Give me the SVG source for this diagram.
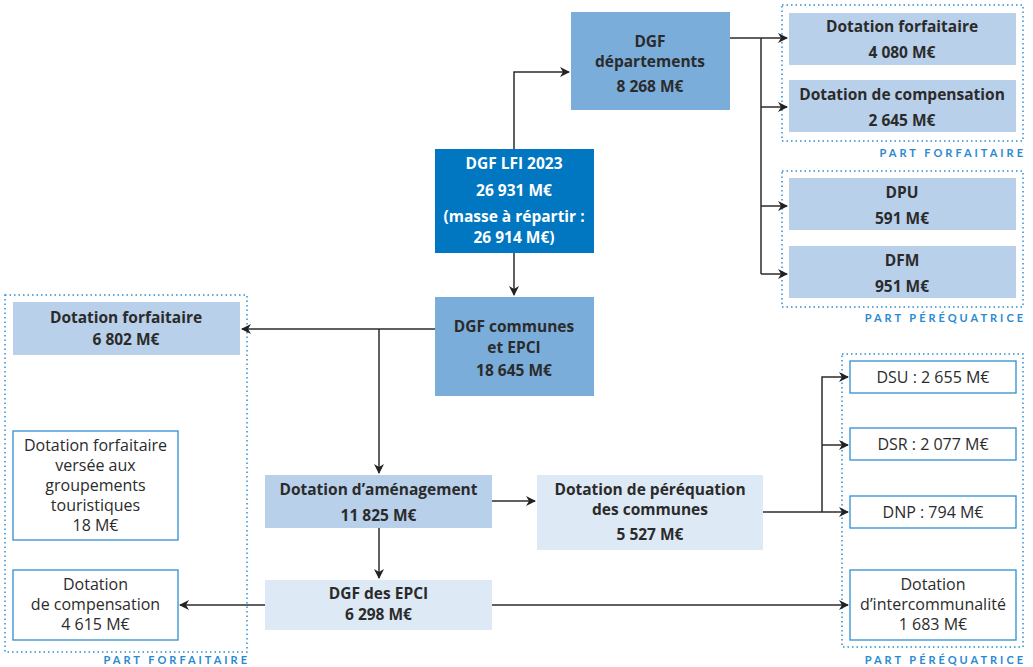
<svg xmlns="http://www.w3.org/2000/svg" width="1033" height="667" viewBox="0 0 1033 667">
<defs>
<marker id="ah" viewBox="0 0 10 10" refX="9" refY="5" markerWidth="10" markerHeight="10" markerUnits="userSpaceOnUse" orient="auto">
<path d="M0,0 L10,5 L0,10 L3,5 Z" fill="#222"/>
</marker>
<style>
text{font-family:"Open Sans","Noto Sans","Liberation Sans",sans-serif;fill:#2b2b2b;text-anchor:middle;font-size:16px}
.b{font-weight:bold;font-size:15.5px}
.w{fill:#fff}
.mid{fill:#7badda}
.light{fill:#b8d0ea}
.pale{fill:#dde9f5}
.dark{fill:#0077c0}
.wb{fill:#fff;stroke:#2f8fd0;stroke-width:1.3}
.dot{fill:none;stroke:#2f8fd0;stroke-width:1.5;stroke-dasharray:1.5 3}
.lab{font-family:"Lato","Liberation Sans",sans-serif;font-size:11px;font-weight:bold;fill:#2a8ad0;letter-spacing:3px;text-anchor:end}
.c{fill:none;stroke:#2b2b2b;stroke-width:1.5}
</style>
</defs>
<g id="groups">
<rect class="dot" x="782" y="5" width="241" height="136"/>
<text class="lab" x="1026" y="157">PART FORFAITAIRE</text>
<rect class="dot" x="782" y="171" width="241" height="136"/>
<text class="lab" x="1026" y="322">PART PÉRÉQUATRICE</text>
<rect class="dot" x="5" y="295" width="242" height="357"/>
<text class="lab" x="250" y="664">PART FORFAITAIRE</text>
<rect class="dot" x="842" y="354" width="181" height="293"/>
<text class="lab" x="1026" y="664">PART PÉRÉQUATRICE</text>
</g>
<g id="connectors">
<path class="c" d="M514,149 V72 H569" marker-end="url(#ah)"/>
<path class="c" d="M730,38 H787" marker-end="url(#ah)"/>
<path class="c" d="M761,38 V274"/>
<path class="c" d="M761,107 H787" marker-end="url(#ah)"/>
<path class="c" d="M761,206 H787" marker-end="url(#ah)"/>
<path class="c" d="M761,274 H787" marker-end="url(#ah)"/>
<path class="c" d="M514,253 V295" marker-end="url(#ah)"/>
<path class="c" d="M435,329 H242" marker-end="url(#ah)"/>
<path class="c" d="M379,329 V473" marker-end="url(#ah)"/>
<path class="c" d="M492,501 H535" marker-end="url(#ah)"/>
<path class="c" d="M379,528 V578" marker-end="url(#ah)"/>
<path class="c" d="M265,605 H180" marker-end="url(#ah)"/>
<path class="c" d="M492,605 H848" marker-end="url(#ah)"/>
<path class="c" d="M763,512 H848" marker-end="url(#ah)"/>
<path class="c" d="M822,512 V377 H848" marker-end="url(#ah)"/>
<path class="c" d="M822,445 H848" marker-end="url(#ah)"/>
</g>
<g id="n-dept">
<rect class="mid" x="571" y="12" width="159" height="98"/>
<text class="b" x="650" y="47">DGF</text>
<text class="b" x="650" y="67">départements</text>
<text class="b" x="650" y="92">8 268 M€</text>
</g>
<g id="n-dept-forf">
<rect class="light" x="789" y="13" width="227" height="52"/>
<text class="b" x="902" y="32">Dotation forfaitaire</text>
<text class="b" x="902" y="58">4 080 M€</text>
</g>
<g id="n-dept-comp">
<rect class="light" x="789" y="80" width="227" height="52"/>
<text class="b" x="902" y="100">Dotation de compensation</text>
<text class="b" x="902" y="126">2 645 M€</text>
</g>
<g id="n-dpu">
<rect class="light" x="789" y="178" width="227" height="52"/>
<text class="b" x="902" y="198">DPU</text>
<text class="b" x="902" y="224">591 M€</text>
</g>
<g id="n-dfm">
<rect class="light" x="789" y="246" width="227" height="52"/>
<text class="b" x="902" y="266">DFM</text>
<text class="b" x="902" y="292">951 M€</text>
</g>
<g id="n-lfi">
<rect class="dark" x="435" y="149" width="159" height="104"/>
<text class="b w" x="514" y="169">DGF LFI 2023</text>
<text class="b w" x="514" y="196">26 931 M€</text>
<text class="b w" x="514" y="222">(masse à répartir :</text>
<text class="b w" x="514" y="243">26 914 M€)</text>
</g>
<g id="n-communes">
<rect class="mid" x="435" y="297" width="159" height="99"/>
<text class="b" x="514" y="332">DGF communes</text>
<text class="b" x="514" y="353">et EPCI</text>
<text class="b" x="514" y="376">18 645 M€</text>
</g>
<g id="n-forf">
<rect class="light" x="13" y="302" width="227" height="53"/>
<text class="b" x="126" y="323">Dotation forfaitaire</text>
<text class="b" x="126" y="345">6 802 M€</text>
</g>
<g id="n-touristiques">
<rect class="wb" x="13" y="431" width="165" height="109"/>
<text x="95.5" y="451">Dotation forfaitaire</text>
<text x="95.5" y="471">versée aux</text>
<text x="95.5" y="491">groupements</text>
<text x="95.5" y="511">touristiques</text>
<text x="95.5" y="531">18 M€</text>
</g>
<g id="n-compensation">
<rect class="wb" x="13" y="570" width="165" height="70"/>
<text x="95.5" y="590">Dotation</text>
<text x="95.5" y="610">de compensation</text>
<text x="95.5" y="630">4 615 M€</text>
</g>
<g id="n-amenagement">
<rect class="light" x="265" y="475" width="227" height="53"/>
<text class="b" x="378.5" y="495">Dotation d’aménagement</text>
<text class="b" x="378.5" y="521">11 825 M€</text>
</g>
<g id="n-perequation">
<rect class="pale" x="537" y="475" width="226" height="75"/>
<text class="b" x="650" y="495">Dotation de péréquation</text>
<text class="b" x="650" y="515">des communes</text>
<text class="b" x="650" y="540">5 527 M€</text>
</g>
<g id="n-epci">
<rect class="pale" x="265" y="580" width="227" height="50"/>
<text class="b" x="378.5" y="599">DGF des EPCI</text>
<text class="b" x="378.5" y="620">6 298 M€</text>
</g>
<g id="n-dsu">
<rect class="wb" x="850" y="361" width="166" height="32"/>
<text x="933" y="383">DSU : 2 655 M€</text>
</g>
<g id="n-dsr">
<rect class="wb" x="850" y="428" width="166" height="32"/>
<text x="933" y="450">DSR : 2 077 M€</text>
</g>
<g id="n-dnp">
<rect class="wb" x="850" y="496" width="166" height="32"/>
<text x="933" y="518">DNP : 794 M€</text>
</g>
<g id="n-interco">
<rect class="wb" x="850" y="570" width="166" height="70"/>
<text x="933" y="590">Dotation</text>
<text x="933" y="610">d’intercommunalité</text>
<text x="933" y="630">1 683 M€</text>
</g>
</svg>
